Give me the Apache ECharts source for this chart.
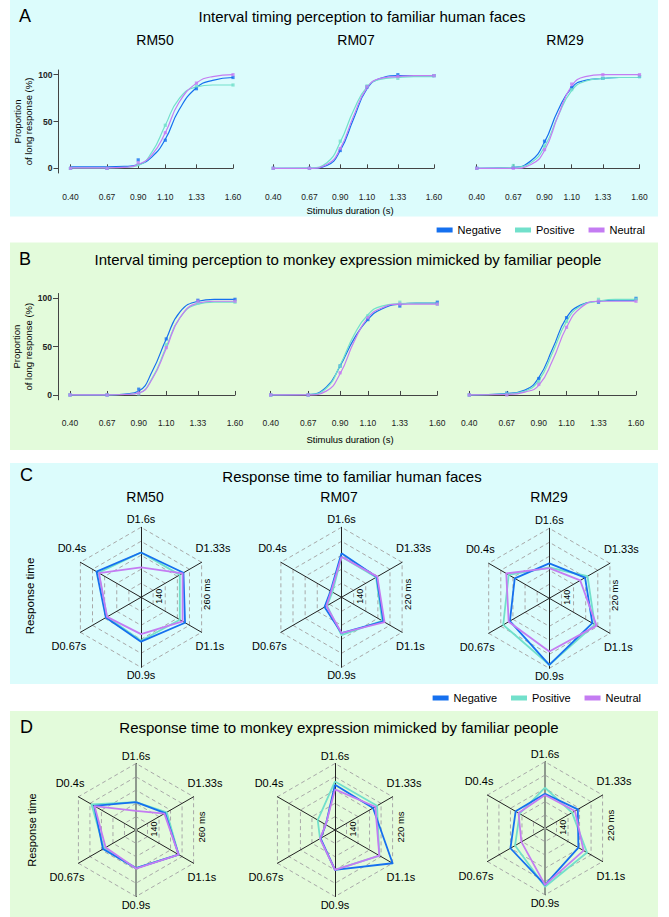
<!DOCTYPE html>
<html><head><meta charset="utf-8">
<script src="https://cdn.jsdelivr.net/npm/echarts@6/dist/echarts.min.js"></script>
<style>html,body{margin:0;padding:0;background:#fff}#c{width:669px;height:917px}</style>
</head><body><div id="c"></div>
<script>
// ---------------- DATA ----------------
const durations = [0.40, 0.67, 0.90, 1.10, 1.33, 1.60];
const fitDurations = [0.40, 0.67, 0.80, 0.90, 1.00, 1.10, 1.20, 1.33, 1.45, 1.60];
const yTicks = [0, 50, 100];
const seriesNames = ['Negative', 'Positive', 'Neutral'];
const monkeys = ['RM50', 'RM07', 'RM29'];

// A: interval timing, familiar human faces (% long response) - measured points
const aRM50Negative = [0, 0, 9, 30, 85, 97];
const aRM50Positive = [0, 0, 4, 46, 88, 89];
const aRM50Neutral  = [0, 0, 6, 38, 91, 100];
const aRM07Negative = [0, 0, 19, 87, 100, 99];
const aRM07Positive = [0, 0, 29, 88, 96, 99];
const aRM07Neutral  = [0, 0, 21, 87, 98, 99];
const aRM29Negative = [0, 1, 29, 86, 96, 98];
const aRM29Positive = [0, 3, 24, 84, 96, 98];
const aRM29Neutral  = [0, 0, 20, 90, 100, 100];
// A: fitted curves, read at fitDurations
const aRM50NegativeFit = [1.5, 1.5, 2, 4, 12, 31, 62, 86, 94, 97];
const aRM50PositiveFit = [0.5, 0.5, 1, 3, 17, 46, 74, 87, 89, 89];
const aRM50NeutralFit  = [0.5, 0.5, 1, 4, 14, 38, 70, 91, 98, 100];
const aRM07NegativeFit = [0, 0, 3, 19, 53, 85, 96, 99, 99, 99];
const aRM07PositiveFit = [0, 0.5, 6, 28, 62, 87, 95, 97, 98, 98];
const aRM07NeutralFit  = [0, 0, 4, 21, 56, 86, 96, 98, 99, 99];
const aRM29NegativeFit = [0, 1, 8, 28, 62, 86, 94, 96, 97, 97];
const aRM29PositiveFit = [0, 1, 6, 23, 56, 83, 93, 96, 97, 97];
const aRM29NeutralFit  = [0, 0, 4, 19, 56, 88, 98, 100, 100, 100];

// B: interval timing, monkey expression mimicked by familiar people - measured points
const bRM50Negative = [0, 0, 6, 58, 98, 99];
const bRM50Positive = [0, 0, 1, 52, 95, 96];
const bRM50Neutral  = [0, 0, 2, 49, 97, 97];
const bRM07Negative = [0, 0, 30, 78, 92, 96];
const bRM07Positive = [0, 0, 30, 82, 96, 94];
const bRM07Neutral  = [0, 0, 23, 80, 94, 94];
const bRM29Negative = [0, 2, 17, 80, 96, 100];
const bRM29Positive = [0, 1, 14, 76, 99, 99];
const bRM29Neutral  = [0, 0, 11, 70, 97, 97];
// B: fitted curves, read at fitDurations
const bRM50NegativeFit = [0, 0, 1, 4, 25, 58, 86, 97, 99, 99];
const bRM50PositiveFit = [0, 0, 0.5, 2, 18, 50, 80, 94, 96, 96];
const bRM50NeutralFit  = [0, 0, 0.5, 2, 17, 48, 80, 95, 97, 97];
const bRM07NegativeFit = [0, 0.5, 8, 30, 58, 78, 89, 94, 95, 95];
const bRM07PositiveFit = [0, 0.5, 7, 31, 62, 83, 92, 94.5, 95, 95];
const bRM07NeutralFit  = [0, 0, 4, 22, 55, 80, 90, 94, 94, 94];
const bRM29NegativeFit = [0, 1.5, 5, 18, 48, 80, 93, 97, 98, 98];
const bRM29PositiveFit = [0, 1, 4, 15, 44, 76, 92, 97, 99, 99];
const bRM29NeutralFit  = [0, 0.5, 3, 10, 36, 70, 90, 97, 97, 97];

// Radar axes (counter-clockwise from top, as ECharts lays them out)
const radarAxes = ['D1.6s', 'D0.4s', 'D0.67s', 'D0.9s', 'D1.1s', 'D1.33s'];
const radarMin = [110, 120, 120];
const radarMax = [260, 220, 220];
const ringLowLabel = '140';
const ringHighLabels = ['260 ms', '220 ms', '220 ms'];

// C: response time (ms), familiar human faces
const cRM50Negative = [206, 220, 197, 205, 219, 215];
const cRM50Positive = [206, 215, 194, 203, 206, 206];
const cRM50Neutral  = [174, 214, 194, 189, 213, 213];
const cRM07Negative = [183, 138, 148, 171, 189, 178];
const cRM07Positive = [178, 135, 144, 174, 187, 177];
const cRM07Neutral  = [178, 137, 145, 171, 191, 179];
const cRM29Negative = [170, 177, 185, 215, 191, 179];
const cRM29Positive = [164, 187, 196, 215, 195, 183];
const cRM29Neutral  = [163, 191, 187, 196, 198, 171];

// D: response time (ms), monkey expression mimicked by familiar people
const dRM50Negative = [173, 219, 196, 196, 221, 186];
const dRM50Positive = [173, 226, 193, 196, 221, 190];
const dRM50Neutral  = [153, 218, 189, 197, 221, 184];
const dRM07Negative = [188, 136, 145, 180, 220, 186];
const dRM07Positive = [193, 150, 146, 180, 197, 193];
const dRM07Neutral  = [181, 136, 146, 180, 197, 190];
const dRM29Negative = [172, 171, 180, 205, 178, 177];
const dRM29Positive = [181, 164, 172, 208, 193, 167];
const dRM29Neutral  = [170, 166, 161, 205, 187, 172];

// ---------------- STYLE / LAYOUT ----------------
const COLORS = { Negative: '#1570ef', Positive: '#72e0cb', Neutral: '#c47cf2' };
const FF = '"Liberation Sans", Arial, Helvetica, sans-serif';
const CYAN = '#dcfcfc', GREEN = '#e3fbdb';

const sigData = [
  [aRM50Negative, aRM50Positive, aRM50Neutral],
  [aRM07Negative, aRM07Positive, aRM07Neutral],
  [aRM29Negative, aRM29Positive, aRM29Neutral],
  [bRM50Negative, bRM50Positive, bRM50Neutral],
  [bRM07Negative, bRM07Positive, bRM07Neutral],
  [bRM29Negative, bRM29Positive, bRM29Neutral]
];
const sigFit = [
  [aRM50NegativeFit, aRM50PositiveFit, aRM50NeutralFit],
  [aRM07NegativeFit, aRM07PositiveFit, aRM07NeutralFit],
  [aRM29NegativeFit, aRM29PositiveFit, aRM29NeutralFit],
  [bRM50NegativeFit, bRM50PositiveFit, bRM50NeutralFit],
  [bRM07NegativeFit, bRM07PositiveFit, bRM07NeutralFit],
  [bRM29NegativeFit, bRM29PositiveFit, bRM29NeutralFit]
];
const sigBoxes = [
  [70.5, 233, 70, 173], [273.3, 434, 70, 173], [476.7, 639.5, 70, 173],
  [70, 235, 293.5, 399.8], [270.7, 437.3, 293.5, 399.8], [469.3, 636, 293.5, 399.8]
];
const radarData = [
  [cRM50Negative, cRM50Positive, cRM50Neutral],
  [cRM07Negative, cRM07Positive, cRM07Neutral],
  [cRM29Negative, cRM29Positive, cRM29Neutral],
  [dRM50Negative, dRM50Positive, dRM50Neutral],
  [dRM07Negative, dRM07Positive, dRM07Neutral],
  [dRM29Negative, dRM29Positive, dRM29Neutral]
];
const radarGeo = [
  [141, 597.3, 70], [341.5, 597.3, 70], [549.3, 598.3, 70],
  [136, 830, 66.5], [335, 830, 66.5], [545, 828.3, 66.5]
];
const greyVertical = [false, false, false, true, false, true];

const grids = [], xAxes = [], yAxes = [], series = [], radars = [], graphics = [];

function txt(x, y, text, size, o) {
  o = o || {};
  return {
    type: 'text', x: x, y: y, rotation: o.rot || 0, z: 50, silent: true,
    style: {
      text: text, fill: o.color || '#000',
      font: (o.weight || 'normal') + ' ' + size + 'px ' + FF,
      textAlign: o.align || 'center', align: o.align || 'center',
      textVerticalAlign: 'middle', verticalAlign: 'middle'
    }
  };
}

// panel backgrounds
[[0, 216.5, CYAN], [242.5, 450, GREEN], [463, 684, CYAN], [711, 917, GREEN]].forEach(function (p) {
  graphics.push({ type: 'rect', z: -100, silent: true, shape: { x: 10, y: p[0], width: 648, height: p[1] - p[0] }, style: { fill: p[2] } });
});

// sigmoid panels
sigBoxes.forEach(function (b, g) {
  grids.push({ left: b[0], top: b[2], width: b[1] - b[0], height: b[3] - b[2], containLabel: false });
  xAxes.push({
    gridIndex: g, type: 'value', min: 0.4, max: 1.6, offset: 15,
    axisLine: { show: true, lineStyle: { color: '#444', width: 1 } },
    axisTick: { show: true, inside: true, length: 4, customValues: durations, lineStyle: { color: '#444' } },
    axisLabel: { customValues: durations, formatter: function (v) { return v.toFixed(2); }, fontSize: 8.5, color: '#222', margin: 4, fontFamily: FF },
    splitLine: { show: false }
  });
  const first = (g % 3 === 0);
  yAxes.push({
    gridIndex: g, type: 'value', min: -5, max: 105, offset: 12, show: first,
    axisLine: { show: true, lineStyle: { color: '#444', width: 1 } },
    axisTick: { show: true, length: 5, customValues: yTicks, lineStyle: { color: '#444' } },
    axisLabel: { customValues: yTicks, fontSize: 8.5, fontWeight: 'bold', color: '#222', margin: 6, fontFamily: FF },
    splitLine: { show: false },
    name: first ? 'Proportion\nof long response (%)' : '', nameLocation: 'middle', nameGap: 21, nameRotate: 90,
    nameTextStyle: { fontSize: 9.5, lineHeight: 11.5, color: '#000', fontFamily: FF }
  });
  [1, 0, 2].forEach(function (k) {
    const name = seriesNames[k];
    series.push({
      type: 'line', name: name, xAxisIndex: g, yAxisIndex: g,
      data: fitDurations.map(function (d, i) { return [d, sigFit[g][k][i]]; }),
      smooth: 0.5, showSymbol: false, symbol: 'none',
      lineStyle: { width: 1.2, color: COLORS[name] }, itemStyle: { color: COLORS[name] },
      color: COLORS[name], emphasis: { disabled: true }, z: 3 + k
    });
    series.push({
      type: 'scatter', name: name, xAxisIndex: g, yAxisIndex: g,
      data: durations.map(function (d, i) { return [d, sigData[g][k][i]]; }),
      symbol: 'rect', symbolSize: 3.2,
      itemStyle: { color: COLORS[name] }, color: COLORS[name],
      emphasis: { disabled: true }, z: 6 + k
    });
  });
});

// radar panels
radarGeo.forEach(function (r, i) {
  const m = i % 3;
  radars.push({
    center: [r[0], r[1]], radius: r[2], startAngle: 90, splitNumber: 5, shape: 'polygon',
    indicator: radarAxes.map(function (n) { return { name: n, min: radarMin[m], max: radarMax[m] }; }),
    axisName: { show: false },
    axisLine: { lineStyle: { color: '#222', width: 1 } },
    splitLine: { lineStyle: { color: '#a8a8a8', width: 1, type: [4, 3] } },
    splitArea: { show: false },
    axisTick: { show: false }, axisLabel: { show: false }
  });
  series.push({
    type: 'radar', radarIndex: i, symbol: 'none', emphasis: { disabled: true }, z: 4,
    data: [1, 0, 2].map(function (k) {
      const name = seriesNames[k];
      return { name: name, value: radarData[i][k], lineStyle: { color: COLORS[name], width: 1.8 }, itemStyle: { color: COLORS[name] }, areaStyle: { opacity: 0 } };
    })
  });
  const cx = r[0], cy = r[1], R = r[2];
  if (greyVertical[i]) {
    graphics.push({ type: 'line', z: 3, silent: true, shape: { x1: cx, y1: cy - R, x2: cx, y2: cy + R }, style: { stroke: '#8e9a8e', lineWidth: 2 } });
  }
  // axis names
  radarAxes.forEach(function (n, j) {
    const th = (90 + 60 * j) * Math.PI / 180;
    const c = Math.cos(th), s = Math.sin(th);
    if (Math.abs(c) < 0.1) {
      graphics.push(txt(cx, cy - Math.sign(s) * (R + 8), n, 11));
    } else {
      const x = cx + Math.sign(c) * (0.866 * R - 6);
      const y = cy - Math.sign(s) * (0.5 * R + 14);
      graphics.push(txt(x, y, n, 11, { align: c > 0 ? 'left' : 'right' }));
    }
  });
  graphics.push(txt(cx + 18, cy - 1, ringLowLabel, 9, { rot: Math.PI / 2 }));
  graphics.push(txt(cx + 65.5, cy - 3, ringHighLabels[m], 9.5, { rot: Math.PI / 2 }));
});

// titles and labels
graphics.push(txt(25, 16, 'A', 18));
graphics.push(txt(25, 259, 'B', 18));
graphics.push(txt(26.5, 475, 'C', 18));
graphics.push(txt(26.5, 727, 'D', 18));
graphics.push(txt(362, 16.5, 'Interval timing perception to familiar human faces', 15));
graphics.push(txt(348, 259, 'Interval timing perception to monkey expression mimicked by familiar people', 15));
graphics.push(txt(352, 476, 'Response time to familiar human faces', 15));
graphics.push(txt(339, 727, 'Response time to monkey expression mimicked by familiar people', 15));
[155, 356, 565].forEach(function (x, i) { graphics.push(txt(x, 39.5, monkeys[i], 14)); });
[145, 339, 549].forEach(function (x, i) { graphics.push(txt(x, 497, monkeys[i], 14)); });
graphics.push(txt(350, 210, 'Stimulus duration (s)', 9.5));
graphics.push(txt(350, 439, 'Stimulus duration (s)', 9.5));
graphics.push(txt(29.5, 596, 'Response time', 11.5, { rot: Math.PI / 2 }));
graphics.push(txt(31.5, 830, 'Response time', 11, { rot: Math.PI / 2 }));

const legendBase = {
  data: seriesNames.map(function (n) { return { name: n, icon: 'rect', itemStyle: { color: COLORS[n] } }; }),
  orient: 'horizontal', padding: 0, itemWidth: 16, itemHeight: 5, itemGap: 14,
  textStyle: { fontSize: 11, color: '#000', fontFamily: FF }, selectedMode: false
};
const legends = [
  Object.assign({}, legendBase, { top: 224.5, right: 24 }),
  Object.assign({}, legendBase, { top: 692.5, right: 28 })
];

const chart = echarts.init(document.getElementById('c'), null, { renderer: 'svg', width: 669, height: 917 });
chart.setOption({
  animation: false,
  backgroundColor: '#ffffff',
  textStyle: { fontFamily: FF },
  grid: grids, xAxis: xAxes, yAxis: yAxes, radar: radars,
  legend: legends, series: series, graphic: { elements: graphics }
});
</script></body></html>
